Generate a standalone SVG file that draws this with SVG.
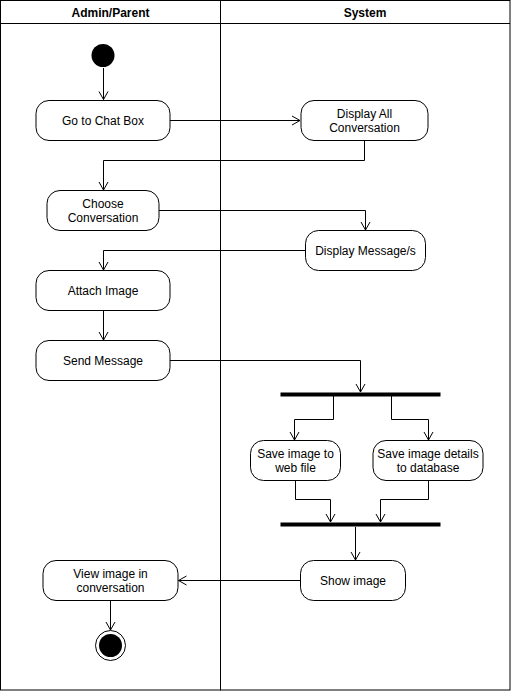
<svg xmlns="http://www.w3.org/2000/svg" width="511" height="691" viewBox="0 0 511 691">
<defs>
<marker id="arr" viewBox="-10 -6 11 12" markerWidth="11" markerHeight="12" refX="0" refY="0" orient="auto" markerUnits="userSpaceOnUse">
<path d="M -8 -4.5 L 0 0 L -8 4.5" fill="none" stroke="#000" stroke-width="1"/>
</marker>
</defs>
<style>
.lane{fill:#fff;stroke:#000;stroke-width:1}
.act{fill:#fff;stroke:#000;stroke-width:1}
.t{font-family:"Liberation Sans",Arial,sans-serif;font-size:12px;fill:#000;text-anchor:middle}
.h{font-family:"Liberation Sans",Arial,sans-serif;font-size:12px;font-weight:bold;fill:#000;text-anchor:middle}
.c{fill:none;stroke:#000;stroke-width:1}
.ca{fill:none;stroke:#000;stroke-width:1}
.bar{fill:#000}
</style>
<rect x="0" y="0" width="511" height="691" fill="#fff"/>
<g id="lanes">
<rect class="lane" x="0.5" y="0.5" width="220" height="689.5"/>
<rect class="lane" x="220.5" y="0.5" width="289.5" height="689.5"/>
<line class="c" x1="0.5" y1="23.5" x2="510" y2="23.5"/>
<text class="h" x="110.5" y="16.5">Admin/Parent</text>
<text class="h" x="365" y="16.5">System</text>
</g>
<g id="connectors">
<path class="ca" d="M103.5 68 V99.5" marker-end="url(#arr)"/>
<path class="ca" d="M170 120.5 H300" marker-end="url(#arr)"/>
<path class="ca" d="M364.5 140 V160.5 H103.5 V190" marker-end="url(#arr)"/>
<path class="ca" d="M159 210.5 H365.5 V230" marker-end="url(#arr)"/>
<path class="ca" d="M305 250.5 H103.5 V270" marker-end="url(#arr)"/>
<path class="ca" d="M103.5 310 V340" marker-end="url(#arr)"/>
<path class="ca" d="M170 360.5 H360.5 V392" marker-end="url(#arr)"/>
<path class="ca" d="M333.5 396 V419.5 H294.5 V440" marker-end="url(#arr)"/>
<path class="ca" d="M391.5 396 V419.5 H428.5 V440" marker-end="url(#arr)"/>
<path class="ca" d="M295.5 480 V499.5 H330.5 V522" marker-end="url(#arr)"/>
<path class="ca" d="M428.5 480 V499.5 H380.5 V522" marker-end="url(#arr)"/>
<path class="ca" d="M355.5 527 V560" marker-end="url(#arr)"/>
<path class="ca" d="M300 580.5 H178.5" marker-end="url(#arr)"/>
<path class="ca" d="M110.5 600.5 V630" marker-end="url(#arr)"/>
</g>
<g id="start"><circle cx="103" cy="55.5" r="11.5" fill="#000"/></g>
<g id="goToChatBox"><rect class="act" x="36" y="100.5" width="134" height="40" rx="13"/><text class="t" x="103" y="124.5">Go to Chat Box</text></g>
<g id="displayAllConversation"><rect class="act" x="301" y="100.5" width="127" height="40" rx="13"/><text class="t" x="364.5" y="118">Display All</text><text class="t" x="364.5" y="132">Conversation</text></g>
<g id="chooseConversation"><rect class="act" x="47" y="190.5" width="112" height="40" rx="13"/><text class="t" x="103" y="208">Choose</text><text class="t" x="103" y="222">Conversation</text></g>
<g id="displayMessages"><rect class="act" x="305.5" y="230.5" width="120" height="40" rx="13"/><text class="t" x="365.5" y="254.5">Display Message/s</text></g>
<g id="attachImage"><rect class="act" x="36" y="270.5" width="134" height="40" rx="13"/><text class="t" x="103" y="294.5">Attach Image</text></g>
<g id="sendMessage"><rect class="act" x="36" y="340.5" width="134" height="40" rx="13"/><text class="t" x="103" y="364.5">Send Message</text></g>
<g id="fork"><rect class="bar" x="280.5" y="392.5" width="160" height="4"/></g>
<g id="saveWebFile"><rect class="act" x="250.5" y="440.5" width="90" height="40" rx="13"/><text class="t" x="295.5" y="458">Save image to</text><text class="t" x="295.5" y="472">web file</text></g>
<g id="saveDatabase"><rect class="act" x="373" y="440.5" width="110" height="40" rx="13"/><text class="t" x="428" y="458">Save image details</text><text class="t" x="428" y="472">to database</text></g>
<g id="join"><rect class="bar" x="280.5" y="522.5" width="160" height="4"/></g>
<g id="showImage"><rect class="act" x="300.5" y="560.5" width="105" height="40" rx="13"/><text class="t" x="353" y="584.5">Show image</text></g>
<g id="viewImage"><rect class="act" x="43" y="560.5" width="135" height="40" rx="13"/><text class="t" x="110.5" y="578">View image in</text><text class="t" x="110.5" y="592">conversation</text></g>
<g id="end"><circle cx="110.5" cy="645.5" r="15" fill="#fff" stroke="#000" stroke-width="1"/><circle cx="110.5" cy="645.5" r="11.5" fill="#000"/></g>
</svg>
